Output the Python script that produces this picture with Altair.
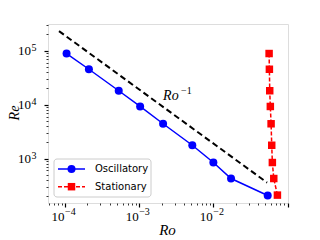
import altair as alt
import pandas as pd

# ---- data ----
ro_osc = [1.05e-4, 2.1e-4, 5.3e-4, 1.03e-3, 2.1e-3, 5.2e-3, 1.0e-2, 1.73e-2, 0.054]
re_osc = [8.8e4, 4.5e4, 1.8e4, 9.2e3, 4.4e3, 1.76e3, 843, 426, 207]
ro_stat = [0.0564, 0.0569, 0.0575, 0.0586, 0.0600, 0.0612, 0.0624, 0.0652, 0.0730]
re_stat = [8.8e4, 4.5e4, 1.8e4, 9.2e3, 4.4e3, 1.76e3, 843, 426, 210]
ro_fit = [8.3e-5, 0.053]
re_fit = [2.29e5, 358]
series_names = ["Oscillatory", "Stationary"]
series_colors = ["#0000ff", "#ff0000"]
x_major = [1e-4, 1e-3, 1e-2]
x_exp = ["\u22124", "\u22123", "\u22122"]
y_major = [1e3, 1e4, 1e5]
y_exp = ["3", "4", "5"]

X_DOM = [5.9e-5, 0.1014]
Y_DOM = [150, 3.1e5]
W, H = 240, 179

x_ticks = [m * 10.0 ** e for e in range(-5, 0) for m in range(1, 10)]
x_ticks = [v for v in x_ticks if X_DOM[0] <= v <= X_DOM[1]]
y_ticks = [m * 10.0 ** e for e in range(2, 6) for m in range(1, 10)]
y_ticks = [v for v in y_ticks if Y_DOM[0] <= v <= Y_DOM[1]]

major_test = "abs(log(datum.value)/LN10 - round(log(datum.value)/LN10)) < 1e-6"

xscale = alt.Scale(type="log", domain=X_DOM, nice=False)
yscale = alt.Scale(type="log", domain=Y_DOM, nice=False)

xaxis = alt.Axis(values=x_ticks, labels=False, domain=False, grid=False, title=None,
                 tickColor="black",
                 tickSize={"condition": {"test": major_test, "value": 4}, "value": 2},
                 tickWidth={"condition": {"test": major_test, "value": 1.2}, "value": 0.8})
yaxis = alt.Axis(values=y_ticks, labels=False, domain=False, grid=False, title=None,
                 tickColor="black",
                 tickSize={"condition": {"test": major_test, "value": 4}, "value": 2},
                 tickWidth={"condition": {"test": major_test, "value": 1.2}, "value": 0.8})

osc = pd.DataFrame({"Ro": ro_osc, "Re": re_osc})
stat = pd.DataFrame({"Ro": ro_stat, "Re": re_stat})
fit = pd.DataFrame({"Ro": ro_fit, "Re": re_fit})

X = alt.X("Ro:Q", scale=xscale, axis=xaxis)
Y = alt.Y("Re:Q", scale=yscale, axis=yaxis)

fit_line = alt.Chart(fit).mark_line(color="black", strokeWidth=2, strokeDash=[6, 3.5]).encode(x=X, y=Y)
osc_line = alt.Chart(osc).mark_line(color=series_colors[0], strokeWidth=1.5).encode(x=X, y=Y)
osc_pts = alt.Chart(osc).mark_point(shape="circle", filled=True, size=64, opacity=1,
                                    color=series_colors[0]).encode(x=X, y=Y)
stat_line = alt.Chart(stat).mark_line(color=series_colors[1], strokeWidth=1.5,
                                      strokeDash=[4, 2]).encode(x=X, y=Y)
stat_pts = alt.Chart(stat).mark_point(shape="square", filled=True, size=56, opacity=1,
                                      color=series_colors[1]).encode(x=X, y=Y)

# Ro^-1 annotation
ann = pd.DataFrame({"Ro": [2.1e-3], "Re": [1.2e4], "t": ["Ro"], "e": ["\u22121"]})
ann_ro = alt.Chart(ann).mark_text(font="Liberation Serif", fontStyle="italic", fontSize=14,
                                  align="left", baseline="alphabetic").encode(
    x=alt.X("Ro:Q", scale=xscale), y=alt.Y("Re:Q", scale=yscale), text="t:N")
ann_exp = alt.Chart(ann).mark_text(font="Liberation Serif", fontSize=10, align="left",
                                   baseline="alphabetic", dx=18, dy=-6).encode(
    x=alt.X("Ro:Q", scale=xscale), y=alt.Y("Re:Q", scale=yscale), text="e:N")

# tick labels
xl = pd.DataFrame({"Ro": x_major, "b": ["10"] * 3, "e": x_exp})
xl10 = alt.Chart(xl).mark_text(font="Liberation Serif", fontSize=13, align="right",
                               baseline="alphabetic", dx=-0.5).encode(
    x=alt.X("Ro:Q", scale=xscale), y=alt.value(H + 18), text="b:N")
xlex = alt.Chart(xl).mark_text(font="Liberation Serif", fontSize=10, align="left",
                               baseline="alphabetic", dx=0).encode(
    x=alt.X("Ro:Q", scale=xscale), y=alt.value(H + 12), text="e:N")
yl = pd.DataFrame({"Re": y_major, "b": ["10"] * 3, "e": y_exp})
yl10 = alt.Chart(yl).mark_text(font="Liberation Serif", fontSize=13, align="right",
                               baseline="alphabetic", dy=4).encode(
    y=alt.Y("Re:Q", scale=yscale), x=alt.value(-17), text="b:N")
ylex = alt.Chart(yl).mark_text(font="Liberation Serif", fontSize=10, align="left",
                               baseline="alphabetic", dy=0).encode(
    y=alt.Y("Re:Q", scale=yscale), x=alt.value(-16.5), text="e:N")

one = pd.DataFrame({"a": [0]})
xtitle = alt.Chart(one).mark_text(font="Liberation Serif", fontStyle="italic", fontSize=15,
                                  text="Ro", align="center", baseline="middle").encode(
    x=alt.value(119.5), y=alt.value(205.5))
ytitle = alt.Chart(one).mark_text(font="Liberation Serif", fontStyle="italic", fontSize=14,
                                  text="Re", align="center", baseline="middle", angle=270).encode(
    x=alt.value(-33), y=alt.value(89))

# manual legend
leg_box = alt.Chart(one).mark_rect(fill="white", fillOpacity=0.85, stroke="#cccccc",
                                   strokeWidth=1, cornerRadius=3).encode(
    x=alt.value(6), x2=alt.value(103), y=alt.value(135), y2=alt.value(173))
leg = pd.DataFrame({"name": series_names, "yy": [145, 162.7]})
leg_l1 = alt.Chart(leg.iloc[[0]]).mark_rule(color=series_colors[0], strokeWidth=1.5).encode(
    x=alt.value(10), x2=alt.value(37), y=alt.value(145))
leg_l2 = alt.Chart(leg.iloc[[1]]).mark_rule(color=series_colors[1], strokeWidth=1.5,
                                            strokeDash=[4, 2]).encode(
    x=alt.value(10), x2=alt.value(37), y=alt.value(162.7))
leg_p1 = alt.Chart(leg.iloc[[0]]).mark_point(shape="circle", filled=True, size=64, opacity=1,
                                             color=series_colors[0]).encode(
    x=alt.value(23.5), y=alt.value(145))
leg_p2 = alt.Chart(leg.iloc[[1]]).mark_point(shape="square", filled=True, size=56, opacity=1,
                                             color=series_colors[1]).encode(
    x=alt.value(23.5), y=alt.value(162.7))
leg_txt = alt.Chart(leg).mark_text(font="DejaVu Sans", fontSize=10, align="left",
                                   baseline="middle", color="black").encode(
    x=alt.value(47), y=alt.Y("yy:Q", scale=None), text="name:N")

chart = alt.layer(
    fit_line, osc_line, osc_pts, stat_line, stat_pts, ann_ro, ann_exp,
    xl10, xlex, yl10, ylex, xtitle, ytitle,
    leg_box, leg_l1, leg_l2, leg_p1, leg_p2, leg_txt,
).properties(
    width=W, height=H,
    autosize=alt.AutoSizeParams(type="none"),
    padding={"left": 40, "top": 16, "right": 16, "bottom": 34},
).configure_view(stroke="#999999", strokeWidth=1.2).configure(background="white")

chart.save("out.html", embed_options={"renderer": "svg", "actions": False})
